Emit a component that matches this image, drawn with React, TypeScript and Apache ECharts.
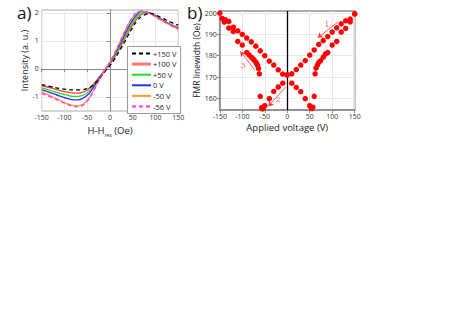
import React, { useEffect, useRef } from "react";
import * as echarts from "echarts";

// ---------- Panel a: FMR spectra ----------
const fieldOe = [-150, -130, -110, -90, -80, -70, -60, -50, -40, -30, -20, -10, 0, 10, 20, 30, 40, 50, 60, 70, 80, 90, 100, 110, 130, 150];
const specP150 = [-0.56, -0.63, -0.7, -0.74, -0.75, -0.75, -0.74, -0.7, -0.62, -0.47, -0.28, -0.07, 0.12, 0.35, 0.62, 0.9, 1.2, 1.48, 1.72, 1.87, 1.95, 1.98, 1.93, 1.85, 1.69, 1.56];
const specP100 = [-0.6, -0.68, -0.77, -0.84, -0.86, -0.86, -0.83, -0.75, -0.6, -0.42, -0.22, -0.02, 0.18, 0.42, 0.7, 1.0, 1.3, 1.58, 1.8, 1.95, 2.0, 1.97, 1.9, 1.8, 1.62, 1.47];
const specP50 = [-0.68, -0.77, -0.87, -0.95, -0.98, -0.98, -0.94, -0.85, -0.68, -0.46, -0.24, -0.02, 0.2, 0.45, 0.75, 1.07, 1.38, 1.66, 1.87, 1.98, 2.0, 1.96, 1.88, 1.79, 1.6, 1.45];
const spec0 = [-0.75, -0.85, -0.97, -1.07, -1.1, -1.1, -1.05, -0.94, -0.75, -0.5, -0.25, 0.0, 0.22, 0.5, 0.82, 1.15, 1.47, 1.75, 1.95, 2.04, 2.03, 1.97, 1.88, 1.78, 1.6, 1.44];
const specM50 = [-0.83, -0.96, -1.12, -1.26, -1.3, -1.31, -1.26, -1.12, -0.88, -0.58, -0.28, 0.0, 0.25, 0.55, 0.9, 1.25, 1.58, 1.85, 2.02, 2.06, 2.02, 1.95, 1.86, 1.76, 1.58, 1.42];
const specM56 = [-0.88, -1.0, -1.15, -1.29, -1.34, -1.35, -1.3, -1.15, -0.9, -0.6, -0.3, 0.0, 0.25, 0.55, 0.9, 1.25, 1.58, 1.85, 2.02, 2.06, 2.02, 1.95, 1.86, 1.76, 1.58, 1.42];
const spectraNames = ["+150 V", "+100 V", "+50 V", "0 V", "-50 V", "-56 V"];
const spectraColors = ["#000000", "#ff3b3b", "#22dd22", "#2f2fff", "#ff9a2e", "#ff33ff"];
const spectraDashed = [true, false, false, false, false, true];
const spectra = [specP150, specP100, specP50, spec0, specM50, specM56];
const aYTicks = [-1, 0, 1, 2];

// ---------- Panel b: FMR linewidth vs applied voltage ----------
const downVoltage = [150, 140, 130, 120, 110, 100, 90, 80, 70, 60, 50, 40, 30, 20, 10, 0, -10, -20, -30, -40, -50, -53, -55, -57, -60, -62, -64, -66, -68, -70, -73, -76, -80, -85, -90, -100, -110, -120, -130, -140, -150];
const downWidth = [199.7, 197.2, 196.4, 195.0, 193.1, 191.1, 189.0, 187.1, 185.3, 182.7, 180.3, 177.7, 175.6, 173.5, 171.5, 171.0, 167.1, 165.3, 163.2, 159.8, 156.5, 155.3, 155.0, 155.6, 160.9, 171.5, 174.0, 175.5, 176.3, 177.0, 177.8, 178.5, 179.3, 180.4, 181.5, 185.0, 186.7, 191.4, 193.0, 195.8, 200.0];
const upVoltage = [-145, -138, -130, -120, -110, -100, -90, -80, -70, -60, -50, -40, -30, -20, -10, 0, 10, 20, 30, 40, 50, 53, 55, 57, 60, 62, 64, 67, 70, 74, 80, 85, 90, 100, 110, 120, 130, 140, 150];
const upWidth = [197.5, 196.9, 196.1, 193.4, 191.7, 190.0, 188.3, 186.5, 184.5, 182.3, 180.0, 177.5, 175.6, 173.4, 171.4, 171.0, 167.1, 165.1, 163.1, 159.8, 156.5, 155.5, 155.2, 155.8, 160.9, 171.5, 174.2, 175.6, 176.8, 177.6, 179.3, 180.8, 181.5, 185.0, 186.7, 191.1, 192.8, 195.9, 199.7];
const bYTicks = [160, 170, 180, 190, 200];
// annotation arrows: [fromV, fromW, toV, toW]
const arrows = [
  [113, 195.9, 68, 188.4],
  [-3, 165.5, -42, 156.2],
  [-73, 173.4, -104, 182.0],
];
const arrowLabels = [
  [88, 194.6, "1"],
  [-20, 159.2, "2"],
  [-98, 175.6, "3"],
];

const FONT = "Open Sans";

export default function App() {
  const ref = useRef<HTMLDivElement>(null);
  useEffect(() => {
    document.body.style.margin = "0";
    const chart = echarts.init(ref.current!, null, { renderer: "svg" });
    const axisLabel = { fontFamily: FONT, fontSize: 7, color: "#333", margin: 3 };
    const nameStyle = { fontFamily: FONT, fontSize: 8.5, color: "#222" };
    const specSeries = spectra.map((arr, i) => ({
      name: spectraNames[i],
      type: "line",
      xAxisIndex: 0,
      yAxisIndex: 0,
      smooth: true,
      symbol: "none",
      data: fieldOe.map((h, j) => [h, arr[j]]),
      lineStyle: { color: spectraColors[i], width: 1.3, type: spectraDashed[i] ? [4, 3] : "solid" },
      itemStyle: { color: spectraColors[i] },
      z: i === 0 ? 8 : 3 + i,
    }));
    chart.setOption({
      animation: false,
      textStyle: { fontFamily: FONT },
      grid: [
        { left: 41.7, top: 10, width: 136.6, height: 101, show: true, borderColor: "#aaa", borderWidth: 1 },
        { left: 219.8, top: 11, width: 134.9, height: 99, show: true, borderColor: "#aaa", borderWidth: 2 },
      ],
      legend: {
        left: 127.5,
        top: 46.5,
        orient: "vertical",
        itemWidth: 19,
        itemHeight: 7,
        itemGap: 2.6,
        padding: [3, 4, 3, 3],
        borderColor: "#999",
        borderWidth: 1,
        backgroundColor: "#fff",
        itemStyle: { opacity: 0 },
        textStyle: { fontFamily: FONT, fontSize: 7.5, color: "#222", padding: [0, 0, 0, -3] },
        data: spectraNames.map((n, i) =>
          i === 1 ? { name: n, lineStyle: { width: 3, color: "#f77" } } : { name: n }
        ),
      },
      xAxis: [
        {
          gridIndex: 0, type: "value", min: -150, max: 150, interval: 50,
          axisLine: { lineStyle: { color: "#888", width: 1 } },
          axisTick: { length: 3, lineStyle: { color: "#888" } },
          axisLabel,
          splitLine: { lineStyle: { color: "#e3e3e3", width: 0.8 } },
          name: "{a|H-H}{s|res}{a| (Oe)}",
          nameLocation: "middle", nameGap: 13,
          nameTextStyle: { rich: { a: { ...nameStyle, fontSize: 9.5 }, s: { fontFamily: FONT, fontSize: 5, color: "#222", padding: [8, 0, 0, 0] } } },
        },
        {
          gridIndex: 1, type: "value", min: -150, max: 150, interval: 50,
          axisLine: { onZero: false, lineStyle: { color: "#888", width: 1.5 } },
          axisTick: { length: 3, lineStyle: { color: "#888" } },
          axisLabel,
          splitLine: { lineStyle: { color: "#e3e3e3", width: 0.8 } },
          name: "Applied voltage (V)",
          nameLocation: "middle", nameGap: 12,
          nameTextStyle: { ...nameStyle, fontSize: 9.5 },
        },
      ],
      yAxis: [
        {
          gridIndex: 0, type: "value", min: -1.5, max: 2.1,
          axisLine: { show: true, lineStyle: { color: "#888", width: 1 } },
          axisTick: { show: true, length: 3, customValues: aYTicks, lineStyle: { color: "#888" } },
          axisLabel: { ...axisLabel, customValues: aYTicks },
          splitLine: { lineStyle: { color: "#e3e3e3", width: 0.8 } },
          name: "Intensity (a. u.)",
          nameLocation: "middle", nameGap: 12,
          nameTextStyle: { ...nameStyle, fontSize: 9 },
        },
        {
          gridIndex: 1, type: "value", min: 154.5, max: 201,
          axisLine: { show: true, onZero: false, lineStyle: { color: "#888", width: 1.5 } },
          axisTick: { show: true, length: 3, customValues: bYTicks, lineStyle: { color: "#888" } },
          axisLabel: { ...axisLabel, customValues: bYTicks },
          splitLine: { lineStyle: { color: "#e3e3e3", width: 0.8 } },
          name: "FMR linewidth (Oe)",
          nameLocation: "middle", nameGap: 18,
          nameTextStyle: nameStyle,
        },
      ],
      graphic: [
        { type: "text", left: 17, top: 4, style: { text: "a)", font: `17px "${FONT}"`, fill: "#111" } },
        { type: "text", left: 187, top: 4, style: { text: "b)", font: `17px "${FONT}"`, fill: "#111" } },
      ],
      series: [
        ...specSeries,
        {
          name: "sweep down",
          type: "scatter",
          xAxisIndex: 1, yAxisIndex: 1,
          symbolSize: 5.5,
          itemStyle: { color: "#ff0000", opacity: 1 },
          data: downVoltage.map((v, i) => [v, downWidth[i]]),
          markLine: {
            silent: true, symbol: "none", label: { show: false },
            lineStyle: { color: "#000", width: 1.3, type: "solid" },
            data: [{ xAxis: 0 }],
          },
          z: 5,
        },
        {
          name: "sweep up",
          type: "scatter",
          xAxisIndex: 1, yAxisIndex: 1,
          symbolSize: 5.5,
          itemStyle: { color: "#ff0000", opacity: 1 },
          data: upVoltage.map((v, i) => [v, upWidth[i]]),
          z: 5,
        },
        {
          name: "annotations",
          type: "scatter",
          xAxisIndex: 1, yAxisIndex: 1,
          symbolSize: 0,
          silent: true,
          data: arrowLabels.map((a) => [a[0], a[1], a[2]]),
          label: {
            show: true, position: "inside", formatter: (p: any) => p.value[2],
            fontFamily: "DejaVu Serif", fontSize: 8, color: "#ff3333",
          },
          markLine: {
            silent: true,
            symbol: ["none", "arrow"],
            symbolSize: 5,
            label: { show: false },
            lineStyle: { color: "#ff3333", width: 0.8, type: "solid", curveness: 0.25 },
            data: arrows.map((a) => [{ coord: [a[0], a[1]] }, { coord: [a[2], a[3]] }]),
          },
          z: 6,
        },
      ],
    });
    return () => chart.dispose();
  }, []);
  return <div ref={ref} style={{ width: 463, height: 328 }} />;
}
